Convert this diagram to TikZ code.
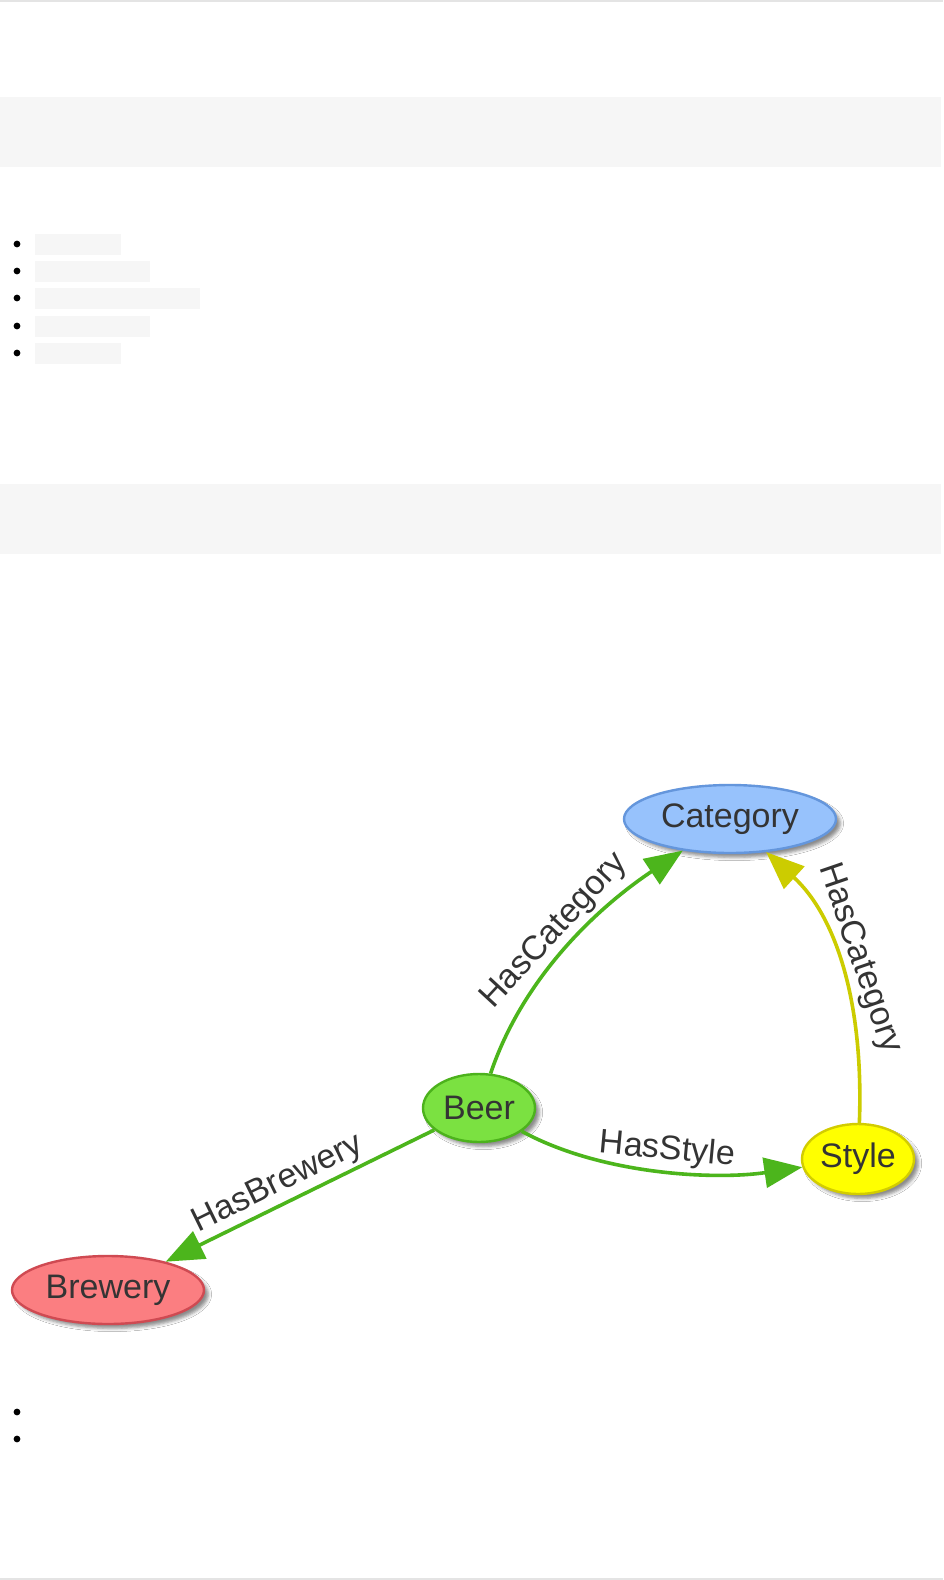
\documentclass[tikz,border=0pt]{standalone}
\usepackage{fontspec}
\setmainfont{Liberation Sans}
\usepackage{xcolor}
\usetikzlibrary{arrows.meta,shapes.geometric,shadows.blur}
\definecolor{bandGray}{HTML}{F6F6F6}
\definecolor{ruleGray}{HTML}{E4E4E4}
\definecolor{txtGray}{HTML}{343434}
\definecolor{catFill}{HTML}{97C2FC}
\definecolor{catLine}{HTML}{6496DC}
\definecolor{beerFill}{HTML}{7BE141}
\definecolor{beerLine}{HTML}{4CB21C}
\definecolor{styFill}{HTML}{FFFF00}
\definecolor{styLine}{HTML}{D2CC00}
\definecolor{brwFill}{HTML}{FB7E81}
\definecolor{brwLine}{HTML}{CF4A52}
\definecolor{edgeGreen}{HTML}{4CB51C}
\definecolor{edgeYellow}{HTML}{CCCC00}

\begin{document}
\begin{tikzpicture}[x=0.5pt, y=-0.5pt, font=\fontsize{17}{20}\selectfont,
  band/.style={fill=bandGray, draw=none},
  bul/.style={circle, fill=black, inner sep=0pt, minimum size=3.4pt},
  ent/.style={ellipse, draw, line width=1.2pt, inner sep=0pt, minimum height=34pt, text=txtGray,
    blur shadow={shadow xshift=2.2pt, shadow yshift=-2.2pt, shadow blur radius=1.6pt, shadow opacity=45}},
  e/.style={-{Triangle[length=19pt, width=15pt]}, line width=1.8pt, draw=edgeGreen},
  lbl/.style={inner sep=1.5pt, text=txtGray}]
% page
\useasboundingbox[fill=white] (0,0) rectangle (943,1580);
\draw[ruleGray, line width=0.9pt] (0,1) -- (943,1);
\draw[ruleGray, line width=0.9pt] (0,1579) -- (943,1579);
\fill[band] (0,97) rectangle (941,167);
\fill[band] (0,484) rectangle (941,554);
% list
\foreach \yy/\ww in {244/121, 271/150, 298/200, 326/150, 353/121}{
  \node[bul] (b\yy) at (17,\yy) {};
  \fill[band] (35,\yy-10.5) rectangle (\ww,\yy+10.5);
}
\node[bul] (c1) at (17,1412) {};
\node[bul] (c2) at (17,1439) {};
% graph
\node[ent, fill=catFill, draw=catLine, minimum width=106pt] (cat) at (730,819) {Category};
\node[ent, fill=beerFill, draw=beerLine, minimum width=56pt] (beer) at (479,1108) {Beer};
\node[ent, fill=styFill, draw=styLine, minimum width=56pt, minimum height=35pt] (sty) at (858,1159) {Style};
\node[ent, fill=brwFill, draw=brwLine, minimum width=96pt] (brw) at (108,1290) {Brewery};
\draw[e] (beer) .. controls (522,980) and (594,910) .. node[lbl, sloped, above, pos=0.52] {HasCategory} (cat);
\draw[e, draw=edgeYellow] (sty) .. controls (864,1000) and (835,915) .. node[lbl, sloped, above, pos=0.5] {HasCategory} (cat);
\draw[e] (beer) .. controls (602,1175) and (715,1180) .. node[lbl, sloped, above, pos=0.52] {HasStyle} (sty);
\draw[e] (beer) -- node[lbl, sloped, above, pos=0.55] {HasBrewery} (brw);
\end{tikzpicture}
\end{document}
